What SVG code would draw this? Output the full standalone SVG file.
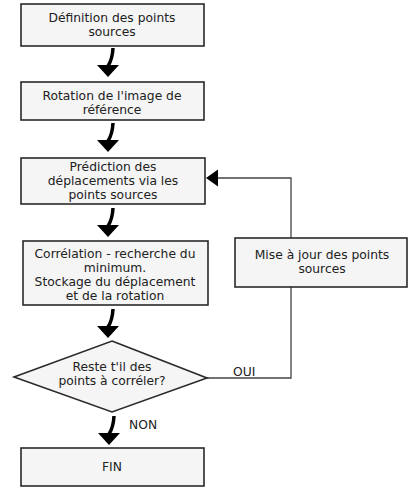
<svg xmlns="http://www.w3.org/2000/svg" xmlns:xlink="http://www.w3.org/1999/xlink" width="409" height="488" viewBox="0 0 409 488">
<style>
.box{fill:#f5f5f5;stroke:#2a2a2a;stroke-width:1.6}
.t{font-family:"DejaVu Sans","Liberation Sans",sans-serif;font-size:12.3px;fill:#222;text-anchor:middle}
.lbl{font-family:"DejaVu Sans","Liberation Sans",sans-serif;font-size:12.3px;fill:#222}
.line{fill:none;stroke:#444;stroke-width:1.3}
</style>
<defs>
<g id="arrow">
<path d="M5,-29 Q4.5,-18 0,-11" fill="none" stroke="#000" stroke-width="3.5"/>
<polygon points="-11,-12 11,-12 0,0" fill="#000"/>
</g>
</defs>
<rect width="409" height="488" fill="#fff"/>
<g id="connectors">
<polyline class="line" points="207,378 291,378 291,178 216,178"/>
<polygon points="206,178 218,169.5 218,186.5" fill="#000"/>
<use xlink:href="#arrow" href="#arrow" transform="translate(108,77)"/>
<use xlink:href="#arrow" href="#arrow" transform="translate(108,152)"/>
<use xlink:href="#arrow" href="#arrow" transform="translate(108,237)"/>
<use xlink:href="#arrow" href="#arrow" transform="translate(108,338)"/>
<use xlink:href="#arrow" href="#arrow" transform="translate(109,445)"/>
<text class="lbl" x="233" y="376">OUI</text>
<text class="lbl" x="129" y="429">NON</text>
</g>
<g id="n1">
<rect class="box" x="21" y="4" width="183" height="42"/>
<text class="t" x="112" y="22">Définition des points</text>
<text class="t" x="112" y="36">sources</text>
</g>
<g id="n2">
<rect class="box" x="21" y="82" width="183" height="38"/>
<text class="t" x="112" y="100">Rotation de l'image de</text>
<text class="t" x="112" y="114">référence</text>
</g>
<g id="n3">
<rect class="box" x="21" y="158" width="184" height="46"/>
<text class="t" x="113" y="171">Prédiction des</text>
<text class="t" x="113" y="185">déplacements via les</text>
<text class="t" x="113" y="199">points sources</text>
</g>
<g id="n4">
<rect class="box" x="23" y="241" width="185" height="64"/>
<text class="t" x="115" y="258">Corrélation - recherche du</text>
<text class="t" x="115" y="272">minimum.</text>
<text class="t" x="115" y="286">Stockage du déplacement</text>
<text class="t" x="115" y="300">et de la rotation</text>
</g>
<g id="n5">
<rect class="box" x="235" y="238" width="172" height="49"/>
<text class="t" x="322" y="259">Mise à jour des points</text>
<text class="t" x="322" y="273">sources</text>
</g>
<g id="n6">
<polygon class="box" points="112,341 207,378 112,412 14,377"/>
<text class="t" x="112" y="371">Reste t'il des</text>
<text class="t" x="112" y="385">points à corréler?</text>
</g>
<g id="n7">
<rect class="box" x="21" y="448" width="183" height="38"/>
<text class="t" x="112" y="471">FIN</text>
</g>
</svg>
